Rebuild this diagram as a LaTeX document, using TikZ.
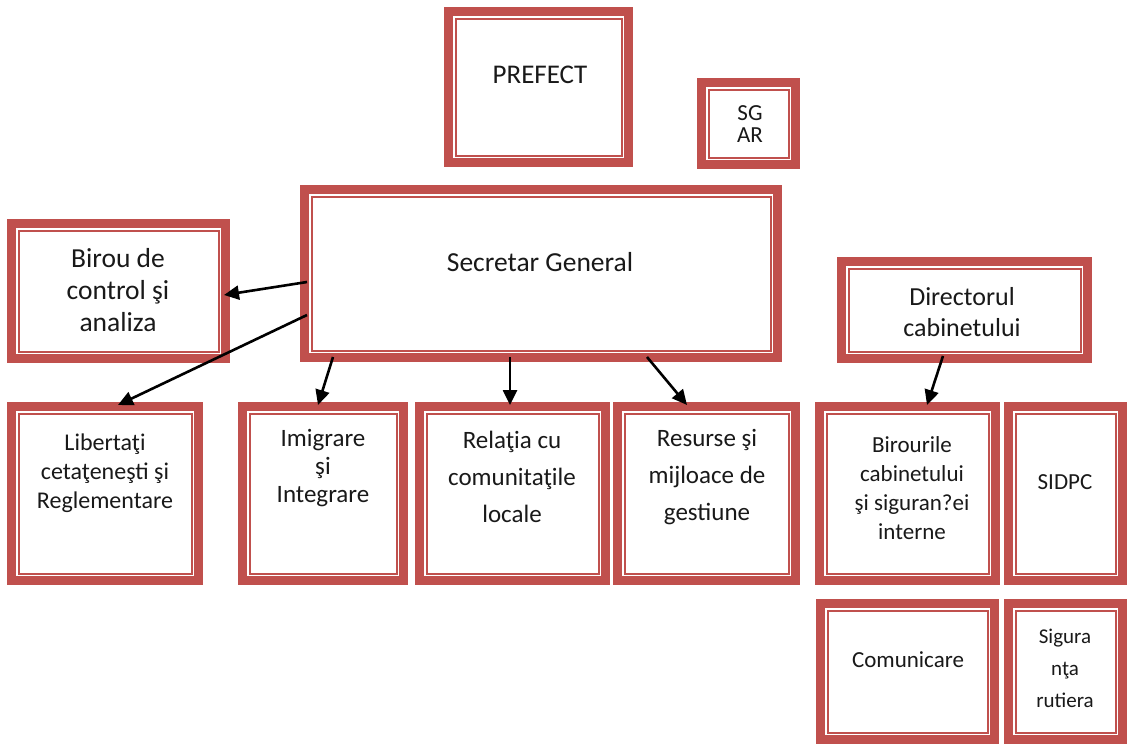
\documentclass[tikz,border=0pt]{standalone}
\usepackage{fontspec}
\setmainfont{Carlito}
\usetikzlibrary{arrows.meta,calc}
\definecolor{boxred}{RGB}{192,80,77}
\definecolor{ink}{RGB}{25,25,25}
\tikzset{
  % thick outer band with a thin inner rule, outer size given in px
  orgbox/.style 2 args={rectangle, draw=boxred, line width=9pt, fill=white,
    minimum width=#1pt-9pt, minimum height=#2pt-9pt, inner sep=0pt,
    path picture={\draw[boxred, line width=2pt]
      ([shift={(7pt,7pt)}]path picture bounding box.south west) rectangle
      ([shift={(-7pt,-7pt)}]path picture bounding box.north east);}},
  lbl/.style 2 args={align=center, inner sep=0pt, text=ink,
    font=\fontsize{#1}{#2}\selectfont},
  link/.style={draw=black, line width=2.6pt,
    -{Triangle[length=15pt,width=14pt]}}
}
\begin{document}
\begin{tikzpicture}[x=1pt,y=-1pt]
\useasboundingbox (0,0) rectangle (1127,744);

% boxes
\node[orgbox={189}{160}] (prefect) at (538.5,87) {};
\node[orgbox={103}{91}]  (sgar)    at (748.5,123.5) {};
\node[orgbox={482}{177}] (sg)      at (541,273.5) {};
\node[orgbox={223}{144}] (birou)   at (118.5,291) {};
\node[orgbox={255}{106}] (dir)     at (964.5,310) {};
\node[orgbox={196}{183}] (lib)     at (105,493.5) {};
\node[orgbox={170}{183}] (imi)     at (323,493.5) {};
\node[orgbox={195}{183}] (rel)     at (512.5,493.5) {};
\node[orgbox={187}{183}] (res)     at (706.5,493.5) {};
\node[orgbox={185}{183}] (bir)     at (907.5,493.5) {};
\node[orgbox={123}{183}] (sidpc)   at (1065.5,493.5) {};
\node[orgbox={183}{145}] (com)     at (907.5,671.5) {};
\node[orgbox={123}{145}] (sig)     at (1065.5,671.5) {};

% labels
\node[lbl={27}{32}] (tprefect) at (540,75) {PREFECT};
\node[lbl={23}{22}] (tsgar) at (750,124) {SG\\AR};
\node[lbl={27.5}{32}] (tsg) at (540,262) {Secretar General};
\node[lbl={27.5}{32}] (tbirou) at (118,290) {Birou de\\control şi\\analiza};
\node[lbl={26}{31}] (tdir) at (962,312) {Directorul\\cabinetului};
\node[lbl={24}{29}] (tlib) at (105,473) {Libertaţi\\cetaţeneşti şi\\Reglementare};
\node[lbl={25}{28}] (timi) at (323,468) {Imigrare\\şi\\Integrare};
\node[lbl={25}{37}] (trel) at (512,477) {Relaţia cu\\comunitaţile\\locale};
\node[lbl={25}{37}] (tres) at (707,477) {Resurse şi\\mijloace de\\gestiune};
\node[lbl={23}{29}] (tbir) at (912,488) {Birourile\\cabinetului\\şi siguran?ei\\interne};
\node[lbl={23}{26}] (tsidpc) at (1065,482) {SIDPC};
\node[lbl={23}{26}] (tcom) at (908,660) {Comunicare};
\node[lbl={21}{32}] (tsig) at (1065,668) {Sigura\\nţa\\rutiera};

% connectors
\draw[link] ($(sg.west)+(7,8.5)$) -- ($(birou.east)+(-6,4)$);
\draw[link] ($(sg.west)+(7,41.5)$) -- ($(lib.north)+(13,3)$);
\draw[link] ($(sg.south west)+(33,-5)$) -- ($(imi.north)+(-5,3)$);
\draw[link] ($(sg.south west)+(210,-5)$) -- ($(rel.north)+(-2.5,3)$);
\draw[link] ($(sg.south west)+(347,-5)$) -- ($(res.north)+(-19.5,3)$);
\draw[link] ($(dir.south)+(-21.5,-7)$) -- ($(bir.north)+(19.5,3)$);
\end{tikzpicture}
\end{document}
